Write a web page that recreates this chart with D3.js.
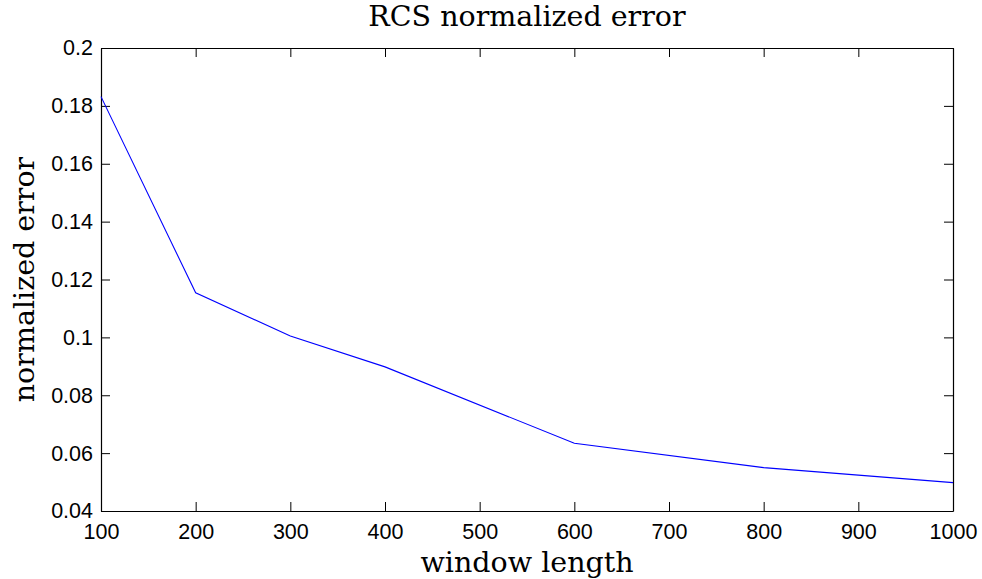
<!DOCTYPE html>
<html>
<head>
<meta charset="utf-8">
<script src="https://cdn.jsdelivr.net/npm/d3@7"></script>
<style>
  body { margin: 0; background: #fff; }
</style>
</head>
<body>
<div id="display"></div>
<script>
const windowLength = [100, 200, 300, 400, 600, 800, 1000];
const normError = [0.1832, 0.1154, 0.1005, 0.0898, 0.0634, 0.0550, 0.0498];
const xTicks = [100, 200, 300, 400, 500, 600, 700, 800, 900, 1000];
const yTicks = [0.04, 0.06, 0.08, 0.1, 0.12, 0.14, 0.16, 0.18, 0.2];

const W = 982, H = 579;
const margin = {top: 48, right: 29, bottom: 68, left: 101};
const width = W - margin.left - margin.right;
const height = H - margin.top - margin.bottom;
const serif = '"DejaVu Serif", serif';

const root = d3.select('#display').append('svg')
    .attr('width', W).attr('height', H);
const svg = root.append('g')
    .attr('transform', 'translate(' + margin.left + ',' + margin.top + ')');

const x = d3.scaleLinear().domain([100, 1000]).range([0, width]);
const y = d3.scaleLinear().domain([0.04, 0.2]).range([height, 0]);

const fmtY = (d) => String(+d.toFixed(2));
const fmtX = (d) => String(d);

function styleTicks(g) {
  g.attr('font-family', '"Liberation Sans", Arial, sans-serif')
      .attr('font-size', 21.5);
  g.selectAll('.tick text').attr('fill', '#000');
}

// bottom / left with labels, inward ticks
svg.append('g').attr('transform', 'translate(0,' + height + ')')
    .call(d3.axisBottom(x).tickValues(xTicks).tickFormat(fmtX)
        .tickSizeInner(-9).tickSizeOuter(0).tickPadding(13))
    .call(styleTicks)
    .call((g) => g.selectAll('.tick text').attr('dy', '0.71em'));
svg.append('g')
    .call(d3.axisLeft(y).tickValues(yTicks).tickFormat(fmtY)
        .tickSizeInner(-9).tickSizeOuter(0).tickPadding(8))
    .call(styleTicks);
// top / right, ticks only
svg.append('g')
    .call(d3.axisTop(x).tickValues(xTicks).tickSizeInner(-9).tickSizeOuter(0).tickFormat(''));
svg.append('g').attr('transform', 'translate(' + width + ',0)')
    .call(d3.axisRight(y).tickValues(yTicks).tickSizeInner(-9).tickSizeOuter(0).tickFormat(''));

svg.selectAll('.domain').attr('stroke', '#000').attr('stroke-width', 1.2);
svg.selectAll('.tick line').attr('stroke', '#000').attr('stroke-width', 1);

const line = d3.line()
    .x((d, i) => x(windowLength[i]))
    .y((d) => y(d));

svg.append('path')
    .datum(normError)
    .attr('fill', 'none')
    .attr('stroke', '#0000ff')
    .attr('stroke-width', 1.1)
    .attr('d', line);

root.append('text')
    .attr('x', margin.left + width / 2).attr('y', 26)
    .attr('text-anchor', 'middle')
    .attr('font-family', serif).attr('font-size', 28.5)
    .text('RCS normalized error');
root.append('text')
    .attr('x', margin.left + width / 2).attr('y', 572)
    .attr('text-anchor', 'middle')
    .attr('font-family', serif).attr('font-size', 28.5)
    .text('window length');
root.append('text')
    .attr('transform', 'translate(34,' + (margin.top + height / 2) + ') rotate(-90)')
    .attr('text-anchor', 'middle')
    .attr('font-family', serif).attr('font-size', 28.5)
    .text('normalized error');
</script>
</body>
</html>
